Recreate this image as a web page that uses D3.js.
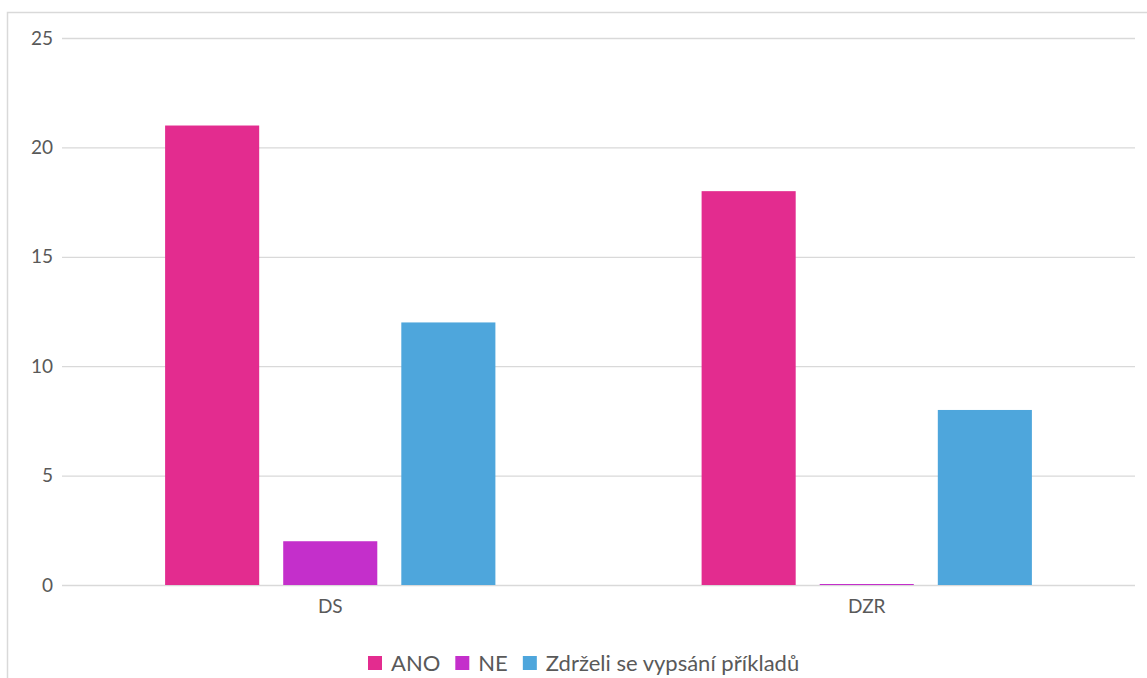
<!DOCTYPE html>
<html>
<head>
<meta charset="utf-8">
<script src="https://cdn.jsdelivr.net/npm/d3@7"></script>
<style>
  body { margin: 0; background: #fff; }
  svg text { font-family: Lato, "Open Sans", sans-serif; fill: #595959; }
</style>
</head>
<body>
<svg id="chart" width="1147" height="678"></svg>
<script>
// Categories, series and values
const categories = ["DS", "DZR"];
const seriesNames = ["ANO", "NE", "Zdrželi se vypsání příkladů"];
const seriesColors = ["#E32C8F", "#C42FCB", "#4EA6DC"];
const valuesANO = [21, 18];
const valuesNE = [2, 0];
const valuesZdrzeli = [12, 8];
const yTicks = [0, 5, 10, 15, 20, 25];

const seriesValues = [valuesANO, valuesNE, valuesZdrzeli];

const svg = d3.select("#chart");
const W = 1147, H = 678;
const plot = { left: 62, right: 1135, top: 38, bottom: 585 };

// Outer chart frame
svg.append("rect")
  .attr("x", 7.5).attr("y", 12.5)
  .attr("width", W + 10).attr("height", H + 10)
  .attr("fill", "none").attr("stroke", "#D9D9D9").attr("stroke-width", 1.5);

const y = d3.scaleLinear().domain([0, 25]).range([plot.bottom, plot.top]);
const x0 = d3.scaleBand().domain(categories).range([plot.left, plot.right]);
const x1 = d3.scaleBand().domain(seriesNames).range([0, x0.bandwidth()])
  .paddingInner(0.2034).paddingOuter(0.873);

// Gridlines and y labels
const yAxis = d3.axisLeft(y).tickValues(yTicks).tickSize(-(plot.right - plot.left)).tickPadding(9);
const gy = svg.append("g").attr("transform", `translate(${plot.left},0)`).call(yAxis);
gy.select(".domain").remove();
gy.selectAll(".tick line").attr("stroke", "#D9D9D9").attr("stroke-width", 1.3);
gy.selectAll(".tick text").attr("font-size", 19).style("font-family", "Lato, sans-serif").attr("fill", "#595959");

// Bars
categories.forEach((cat, ci) => {
  const g = svg.append("g").attr("transform", `translate(${x0(cat)},0)`);
  seriesNames.forEach((s, si) => {
    const v = seriesValues[si][ci];
    const top = y(v);
    const h = Math.max(1, y(0) - top);
    g.append("rect")
      .attr("x", x1(s))
      .attr("y", v === 0 ? y(0) - 1 : top)
      .attr("width", x1.bandwidth())
      .attr("height", h)
      .attr("fill", seriesColors[si]);
  });
});

// Category labels
const xAxis = d3.axisBottom(x0).tickSize(0).tickPadding(15);
const gx = svg.append("g").attr("transform", `translate(0,${plot.bottom})`).call(xAxis);
gx.select(".domain").remove();
gx.selectAll(".tick text").attr("font-size", 19).style("font-family", "Lato, sans-serif").attr("fill", "#595959");

// Legend
const legend = svg.append("g").attr("transform", "translate(368,663)");
let lx = 0;
seriesNames.forEach((s, i) => {
  const item = legend.append("g").attr("transform", `translate(${lx},0)`);
  item.append("rect").attr("x", 0).attr("y", -7).attr("width", 14).attr("height", 14).attr("fill", seriesColors[i]);
  const t = item.append("text").attr("x", 23).attr("y", 0).attr("dy", "0.36em")
    .attr("font-size", 22).text(s);
  lx += 23 + t.node().getComputedTextLength() + 15;
});
</script>
</body>
</html>
